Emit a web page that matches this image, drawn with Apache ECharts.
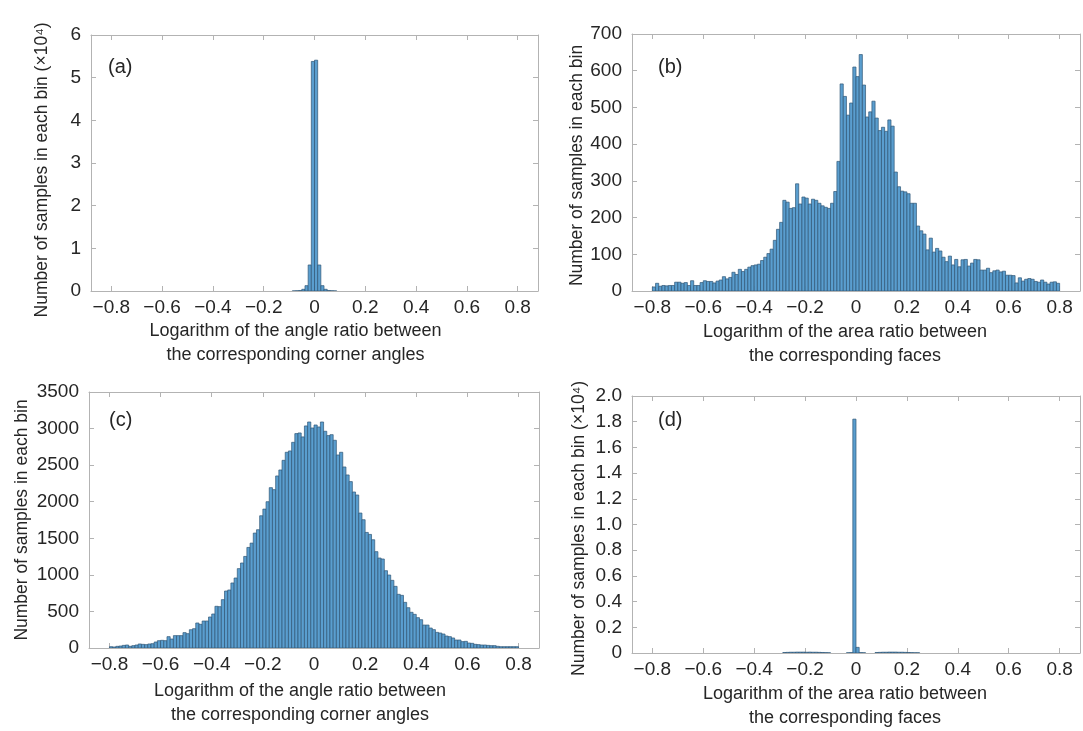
<!DOCTYPE html>
<html>
<head>
<meta charset="utf-8">
<script src="https://cdn.jsdelivr.net/npm/echarts@6/dist/echarts.min.js"></script>
<style>
  html, body { margin: 0; padding: 0; background: #ffffff; }
  #chart { width: 1083px; height: 731px; }
</style>
</head>
<body>
<div id="chart"></div>
<script>
// Histogram bins: 128 bins of width 0.0125 covering [-0.8, 0.8]
const binStart = -0.8;
const binWidth = 0.0125;
const xTickValues = [-0.8, -0.6, -0.4, -0.2, 0, 0.2, 0.4, 0.6, 0.8];

// (a) corner-angle log ratio, counts in units of 10^4
const countsA = [
  0,0,0,0,0,0,0,0,0,0, 0,0,0,0,0,0,0,0,0,0,
  0,0,0,0,0,0,0,0,0,0, 0,0,0,0,0,0,0,0,0,0,
  0,0,0,0,0,0,0,0,0,0, 0,0,0,0,0,0,0,0.002,0.006,0.012,
  0.04,0.125,0.61,5.38,5.41,0.61,0.125,0.04,0.012,0.006,
  0.002,0,0,0,0,0,0,0,0,0, 0,0,0,0,0,0,0,0,0,0,
  0,0,0,0,0,0,0,0,0,0, 0,0,0,0,0,0,0,0,0,0,
  0,0,0,0,0,0,0,0
];

// (b) face-area log ratio, counts
const countsB = [
  11,21,13,15,14,15,15,24,24,21,23,15,28,15,15,23,28,26,26,22,
  27,30,39,33,37,51,45,59,53,59,65,69,71,73,83,92,102,114,138,168,
  187,247,242,225,227,292,237,256,253,237,250,247,239,232,228,225,239,271,353,564,
  530,479,512,610,584,644,561,474,488,517,471,437,446,435,466,449,324,284,272,270,
  265,239,239,177,164,155,112,144,106,116,109,92,80,95,71,86,66,85,86,68,
  76,86,85,57,57,62,50,55,57,52,54,43,43,42,22,36,27,32,34,32,
  26,24,30,24,19,24,25,21
];

// (c) corner-angle log ratio, counts
const countsC = [
  18,14,23,27,36,41,23,32,41,55,50,46,55,59,82,100,105,100,155,123,
  169,169,169,210,196,250,264,342,324,369,369,424,465,570,565,661,779,793,889,957,
  1085,1162,1252,1375,1434,1571,1617,1808,1899,2000,2192,2165,2352,2434,2566,2676,2694,2812,2931,2940,
  2886,3036,3090,3008,3049,3022,3090,2963,2904,2917,2840,2639,2676,2475,2366,2275,2133,2092,1845,1754,
  1580,1553,1480,1317,1230,1217,1057,998,925,843,734,720,624,551,488,460,415,387,314,314,
  273,251,214,205,191,164,155,137,109,109,87,91,68,64,50,46,41,41,36,32,
  32,23,18,18,18,18,18,18
];

// (d) face-area log ratio, counts in units of 10^4
const countsD = [
  0,0,0,0,0,0,0,0,0,0, 0,0,0,0,0,0,0,0,0,0,
  0,0,0,0,0,0,0,0,0,0, 0,0,0,0,0,0,0,0,0,0,
  0,0.004,0.005,0.006,0.006,0.007,0.007,0.007,0.006,0.007, 0.006,0.006,0.005,0.004,0.003,0.002,0,0,0,0,
  0,0.002,0.003,1.82,0.044,0.003,0.002,0,0,0,
  0.004,0.005,0.006,0.006,0.007,0.007,0.007,0.006,0.006,0.005, 0.004,0.003,0.002,0.002,0,0,0,0,0,0,
  0,0,0,0,0,0,0,0,0,0, 0,0,0,0,0,0,0,0,0,0,
  0,0,0,0,0,0,0,0
];

const yTicksA = { min: 0, max: 6, interval: 1 };
const yTicksB = { min: 0, max: 700, interval: 100 };
const yTicksC = { min: 0, max: 3500, interval: 500 };
const yTicksD = { min: 0, max: 2, interval: 0.2 };

const panelLetters = ['(a)', '(b)', '(c)', '(d)'];
const yNames = [
  'Number of samples in each bin (\u00d710\u2074)',
  'Number of samples in each bin',
  'Number of samples in each bin',
  'Number of samples in each bin (\u00d710\u2074)'
];
const xNames = [
  'Logarithm of the angle ratio between\nthe corresponding corner angles',
  'Logarithm of the area ratio between\nthe corresponding faces',
  'Logarithm of the angle ratio between\nthe corresponding corner angles',
  'Logarithm of the area ratio between\nthe corresponding faces'
];

const FONT = '"Liberation Sans", Arial, Helvetica, sans-serif';
const TEXT = '#262626';
const BOX = '#b3b3b3';
const FACE = '#5a9ecf';
const EDGE = '#2f5675';

const grids = [
  { left: 91,  top: 35,  width: 447, height: 256 },
  { left: 632, top: 34,  width: 448, height: 257 },
  { left: 89,  top: 392, width: 450, height: 256 },
  { left: 632, top: 396, width: 448, height: 257 }
];

// per-panel placement of the axis titles
const xNameGap = [28, 29, 31, 29];
const xNameShift = [19, 11, 14, 11];
const yNameGap = [40, 42, 58, 44];
const yNameShift = [7, 3, 0, 4];

function minusFmt(v) {
  if (Math.abs(v) < 1e-9) return '0';
  return String(+v.toFixed(2)).replace('-', '\u2212');
}

const xAxes = [];
const yAxes = [];
const series = [];
const yTicks = [yTicksA, yTicksB, yTicksC, yTicksD];
const counts = [countsA, countsB, countsC, countsD];
const yFmt = [
  v => String(v),
  v => String(v),
  v => String(v),
  v => (v === 0 ? '0' : v.toFixed(1))
];

grids.forEach((g, k) => {
  const common = {
    type: 'value', gridIndex: k, min: -0.88, max: 0.88,
    splitLine: { show: false },
    axisLine: { show: true, onZero: false, lineStyle: { color: BOX, width: 1 } },
    axisTick: { show: true, inside: true, length: 5, customValues: xTickValues, lineStyle: { color: BOX } }
  };
  xAxes.push(Object.assign({}, common, {
    position: 'bottom',
    axisLabel: {
      show: true, customValues: xTickValues, formatter: minusFmt,
      color: TEXT, fontSize: 19, fontFamily: FONT, margin: 7
    },
    name: xNames[k], nameLocation: 'middle', nameGap: xNameGap[k],
    nameTextStyle: {
      color: TEXT, fontSize: 18, fontFamily: FONT, lineHeight: 24, verticalAlign: 'top',
      padding: [0, 2 * xNameShift[k], 0, 0]
    }
  }));
  xAxes.push(Object.assign({}, common, { position: 'top', axisLabel: { show: false } }));

  const yt = yTicks[k];
  const ycommon = {
    type: 'value', gridIndex: k, min: yt.min, max: yt.max, interval: yt.interval,
    splitLine: { show: false },
    axisLine: { show: true, onZero: false, lineStyle: { color: BOX, width: 1 } },
    axisTick: { show: true, inside: true, length: 5, lineStyle: { color: BOX } }
  };
  yAxes.push(Object.assign({}, ycommon, {
    position: 'left',
    axisLabel: { show: true, formatter: yFmt[k], color: TEXT, fontSize: 19, fontFamily: FONT, margin: 10 },
    name: yNames[k], nameLocation: 'middle', nameGap: yNameGap[k], nameRotate: 90,
    nameTextStyle: {
      color: TEXT, fontSize: 17.5, fontFamily: FONT,
      padding: [0, 2 * yNameShift[k], 0, 0]
    }
  }));
  yAxes.push(Object.assign({}, ycommon, { position: 'right', axisLabel: { show: false } }));

  const data = [];
  counts[k].forEach((v, i) => {
    if (v > 0) data.push([binStart + i * binWidth, binStart + (i + 1) * binWidth, v]);
  });
  series.push({
    type: 'custom', xAxisIndex: 2 * k, yAxisIndex: 2 * k, clip: true,
    encode: { x: [0, 1], y: 2 },
    data: data,
    renderItem: function (params, api) {
      const p0 = api.coord([api.value(0), api.value(2)]);
      const p1 = api.coord([api.value(1), 0]);
      return {
        type: 'rect',
        shape: { x: p0[0], y: p0[1], width: p1[0] - p0[0], height: p1[1] - p0[1] },
        style: { fill: FACE, stroke: EDGE, lineWidth: 0.7 }
      };
    }
  });
});

const letterPos = [[108, 67], [658, 67], [109, 420], [658, 420]];
const graphics = panelLetters.map((t, k) => ({
  type: 'text', x: letterPos[k][0], y: letterPos[k][1],
  style: { text: t, fill: TEXT, font: '20px ' + FONT, verticalAlign: 'middle' }
}));

const chart = echarts.init(document.getElementById('chart'), null, { renderer: 'canvas' });
chart.setOption({
  animation: false,
  backgroundColor: '#ffffff',
  grid: grids,
  xAxis: xAxes,
  yAxis: yAxes,
  series: series,
  graphic: graphics
});
</script>
</body>
</html>
